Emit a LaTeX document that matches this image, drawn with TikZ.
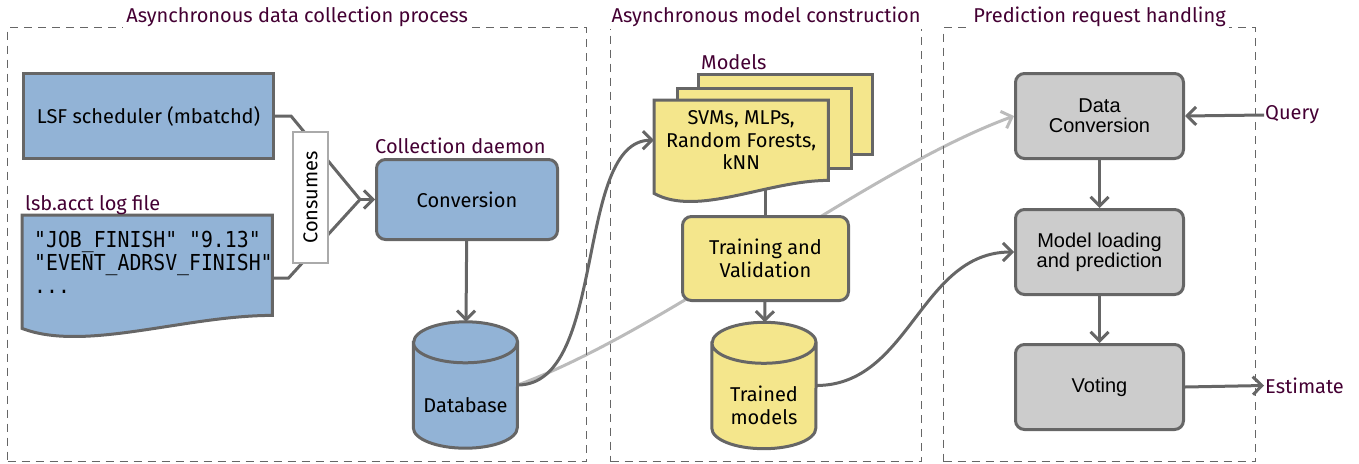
\documentclass[tikz,border=0pt]{standalone}
\usepackage{fontspec}
\setmainfont{Fira Sans}
\newfontfamily\arialfont{Liberation Sans}
\newfontfamily\codefont[FakeStretch=0.9,Ligatures=TeXOff]{DejaVu Sans Mono}
\usepackage{tikz}
\usetikzlibrary{arrows.meta,calc,backgrounds}

\definecolor{jobblue}{HTML}{92B3D6}
\definecolor{modelyellow}{HTML}{F4E68C}
\definecolor{servegray}{HTML}{CCCCCC}
\definecolor{edgegray}{HTML}{666666}
\definecolor{fadegray}{HTML}{BBBBBB}
\definecolor{consumegray}{HTML}{AAAAAA}
\definecolor{labelpurple}{HTML}{440033}

\newcommand{\boxfont}{\fontsize{20}{23}\selectfont}
\newcommand{\docoutline}[2]{%
  \draw[edgegray, line width=3pt, fill=#2] (#1.north west) -- (#1.north east) -- (#1.south east)
    .. controls ($(#1.south east)!0.35!(#1.south west)$) and ($(#1.south east)!0.75!(#1.south west)+(0,37)$)
    .. ($(#1.south west)+(0,13)$) -- cycle;}
\newcommand{\drumoutline}[2]{%
  \draw[edgegray, line width=3pt, fill=#2] ($(#1.north west)+(0,20.5)$) -- ($(#1.south west)+(0,-20.5)$)
    arc[start angle=180, end angle=360, x radius=52pt, y radius=20.5pt] -- ($(#1.north east)+(0,20.5)$)
    arc[start angle=0, end angle=180, x radius=52pt, y radius=20.5pt] -- cycle
    ($(#1.north west)+(0,20.5)$) arc[start angle=180, end angle=360, x radius=52pt, y radius=20.5pt];}

\tikzstyle{groupbox}=[draw=edgegray, line width=1.2pt, dash pattern=on 8pt off 6pt, inner sep=0pt, anchor=north west]
\tikzstyle{grouptitle}=[fill=white, text=labelpurple, font=\boxfont, anchor=base, yshift=5pt, inner sep=3pt]
\tikzstyle{lbl}=[text=labelpurple, font=\boxfont, inner sep=1pt]
\tikzstyle{block}=[draw=edgegray, line width=3pt, align=center, font=\boxfont, inner sep=0pt, anchor=north west]
\tikzstyle{roundbox}=[block, rounded corners=9pt]
\tikzstyle{servebox}=[roundbox, fill=servegray, minimum width=168pt, minimum height=85pt, font=\arialfont\fontsize{20}{20}\selectfont]
\tikzstyle{docframe}=[inner sep=0pt, anchor=north west]
\tikzstyle{drumframe}=[inner sep=0pt, minimum width=104pt, minimum height=126pt]
\tikzstyle{link}=[edgegray, line width=3pt]
\tikzstyle{flow}=[link, -{Straight Barb[length=9pt,width=18pt]}]
\tikzstyle{faint}=[fadegray, line width=3pt, -{Straight Barb[length=9pt,width=18pt]}]

\begin{document}
\begin{tikzpicture}[x=1pt,y=-1pt]
  \useasboundingbox (0,0) rectangle (1359,463);

  % the three stages
  \node[groupbox, minimum width=579pt, minimum height=434pt] (collect) at (7,27) {};
  \node[groupbox, minimum width=311pt, minimum height=434pt] (build) at (610,27) {};
  \node[groupbox, minimum width=312pt, minimum height=434pt] (serve) at (943,27) {};
  \node[grouptitle] (collecttitle) at (collect.north) {Asynchronous data collection process};
  \node[grouptitle] (buildtitle) at (build.north) {Asynchronous model construction};
  \node[grouptitle] (servetitle) at (serve.north) {Prediction request handling};

  % data collection
  \node[block, fill=jobblue, minimum width=250pt, minimum height=85pt] (lsf) at (22,72) {LSF scheduler (mbatchd)};
  \node[docframe, minimum width=250pt, minimum height=100pt] (log) at (22,215) {};
  \docoutline{log}{jobblue}
  \node[anchor=north west, inner sep=0pt, align=left, font=\codefont\fontsize{22}{23}\selectfont] (logtext) at (34,231)
    {"JOB\_FINISH" "9.13"\\"EVENT\_ADRSV\_FINISH"\\...};
  \node[lbl, anchor=base west] (loglabel) at ($(log.north west)+(2,-5)$) {lsb.acct log file};
  \node[draw=consumegray, line width=2.5pt, fill=white, rotate=90, minimum width=131pt, minimum height=35pt,
    inner sep=0pt, font=\boxfont] (consumes) at (310.5,197.5) {Consumes};
  \node[roundbox, fill=jobblue, minimum width=181pt, minimum height=80pt] (conv) at (375,158) {Conversion};
  \node[lbl, anchor=base west] (convlabel) at ($(conv.north west)+(-1,-5)$) {Collection daemon};
  \node[drumframe] (db) at (465.5,385) {};
  \drumoutline{db}{jobblue}
  \node[font=\boxfont] (dbtext) at ($(db.center)+(0,20)$) {Database};

  % model construction
  \foreach \k in {2,1}
    \node[block, fill=modelyellow, minimum width=174pt, minimum height=80pt] (page\k) at (654+21.5*\k,100-13.5*\k) {};
  \node[docframe, minimum width=174pt, minimum height=80pt] (front) at (654,100) {};
  \docoutline{front}{modelyellow}
  \node[font=\fontsize{20}{22.5}\selectfont, align=center] (fronttext) at (front.center) {SVMs, MLPs,\\Random Forests,\\kNN};
  \node[lbl, anchor=base west] (modelslabel) at ($(page2.north west)+(3,-4)$) {Models};
  \node[roundbox, fill=modelyellow, minimum width=166pt, minimum height=84pt] (train) at (681,215) {Training and\\Validation};
  \node[drumframe] (trained) at (764,385.5) {};
  \drumoutline{trained}{modelyellow}
  \node[font=\boxfont, align=center] (trainedtext) at ($(trained.center)+(0,20)$) {Trained\\models};

  % prediction requests
  \node[servebox] (dconv) at (1014,72) {Data\\Conversion};
  \node[servebox] (mload) at (1014,208) {Model loading\\and prediction};
  \node[servebox] (vote) at (1014,343) {Voting};
  \node[lbl, anchor=west] (query) at (1264,115) {Query};
  \node[lbl, anchor=west] (estimate) at (1264,385.5) {Estimate};

  \begin{scope}[on background layer]
    \coordinate (join) at ($(conv.west)+(-15,0)$);
    \draw[link] (lsf.east) -- ++(16,0) -- (join);
    \draw[link] ($(log.east)+(0,13)$) -- ++(16,0) -- (join);
    \draw[flow] (join) -- (conv.west);
    \draw[flow] (conv) -- (db);
    \draw[faint] (db.east) .. controls +(150,-55) and +(-150,55) .. (dconv.west);
    \draw[flow] (db.east) .. controls +(90,0) and +(-80,0) .. (front.west);
    \draw[link] (train.north) -- (train.north |- front.south);
    \draw[flow] (train) -- (trained);
    \draw[flow] (trained.east) .. controls +(94,0) and +(-94,0) .. (mload.west);
    \draw[flow] (query.west) -- (dconv.east);
    \draw[flow] (dconv) -- (mload);
    \draw[flow] (mload) -- (vote);
    \draw[flow] (vote.east) -- (estimate.west);
  \end{scope}
\end{tikzpicture}
\end{document}
